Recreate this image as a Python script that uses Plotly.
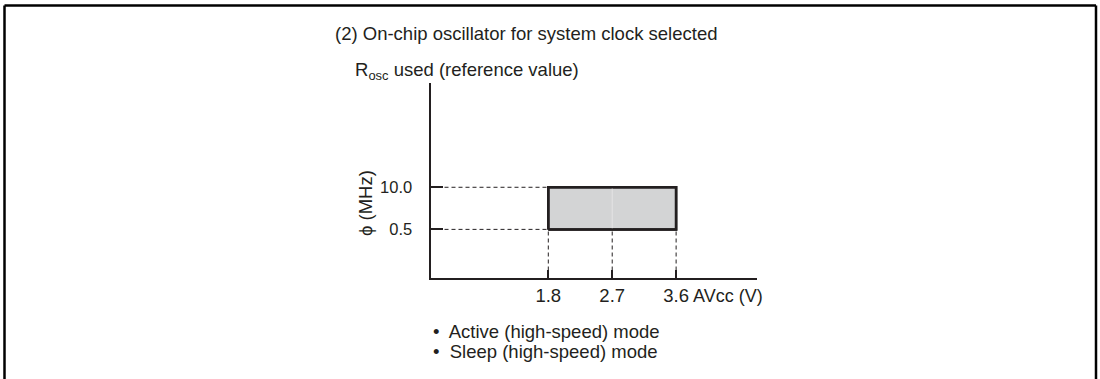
import plotly.graph_objects as go

# Operating range values
x_ticks = [1.8, 2.7, 3.6]
x_tick_labels = ["1.8", "2.7", "3.6"]
y_ticks = [0.5, 10.0]
y_tick_labels = ["0.5", "10.0"]
v_min, v_max = 1.8, 3.6
f_min, f_max = 0.5, 10.0
modes = ["Active (high-speed) mode", "Sleep (high-speed) mode"]

W, H = 1100, 379
FONT = "Liberation Sans, Arial, Helvetica, sans-serif"
INK = "#231f20"
FS = 18.5

# axis geometry (pixels)
ax_left, ax_right = 430.5, 757
ax_bottom, ax_top = 277.5, 83

x_range = [0.141, 4.739]
y_range = [-1.788, 4.222]
y_floor = 10 ** y_range[0]

fig = go.Figure()

dash = dict(color=INK, width=1, dash="4px,3px")
# horizontal guide lines to the frequency limits
for f in [f_max, f_min]:
    fig.add_trace(go.Scatter(x=[x_range[0], v_min], y=[f, f], mode="lines",
                             line=dash, hoverinfo="skip", showlegend=False))
# vertical guide lines to the voltage points
for v in x_ticks:
    fig.add_trace(go.Scatter(x=[v, v], y=[y_floor, f_min], mode="lines",
                             line=dash, hoverinfo="skip", showlegend=False))

# operating region
fig.add_trace(go.Scatter(
    x=[v_min, v_max, v_max, v_min, v_min],
    y=[f_min, f_min, f_max, f_max, f_min],
    mode="lines", fill="toself", fillcolor="#d3d4d5",
    line=dict(color=INK, width=2.5), hoverinfo="skip", showlegend=False))
fig.add_trace(go.Scatter(x=[x_ticks[1], x_ticks[1]], y=[f_min, f_max], mode="lines",
                         line=dict(color="#e4e4e4", width=1),
                         hoverinfo="skip", showlegend=False))
fig.add_trace(go.Scatter(
    x=[v_min, v_max, v_max, v_min, v_min],
    y=[f_min, f_min, f_max, f_max, f_min],
    mode="lines", line=dict(color=INK, width=2.5),
    hoverinfo="skip", showlegend=False))

fig.update_layout(
    width=W, height=H,
    margin=dict(l=0, r=0, t=0, b=0),
    paper_bgcolor="white", plot_bgcolor="rgba(0,0,0,0)",
    font=dict(family=FONT, size=FS, color=INK),
    xaxis=dict(
        domain=[ax_left / W, ax_right / W], range=x_range,
        showgrid=False, zeroline=False, showline=True, linecolor=INK, linewidth=2,
        ticks="inside", ticklen=8, tickwidth=2, tickcolor=INK,
        tickvals=x_ticks, ticktext=x_tick_labels,
        tickfont=dict(family=FONT, size=FS, color=INK),
    ),
    yaxis=dict(
        type="log",
        domain=[1 - ax_bottom / H, 1 - ax_top / H], range=y_range,
        showgrid=False, zeroline=False, showline=True, linecolor=INK, linewidth=2,
        ticks="inside", ticklen=12, tickwidth=2, tickcolor=INK,
        tickvals=y_ticks, ticktext=y_tick_labels, ticklabelstandoff=13,
        tickfont=dict(family=FONT, size=16.5, color=INK),
    ),
)

def px(x, y):
    return dict(xref="paper", yref="paper", x=x / W, y=1 - y / H)

anns = [
    dict(text="(2) On-chip oscillator for system clock selected",
         xanchor="left", yanchor="middle", **px(333, 33)),
    dict(text="R<sub>osc</sub> used (reference value)",
         xanchor="left", yanchor="middle", **px(353, 71)),
    dict(text="AVcc (V)", xanchor="left", yanchor="middle", **px(691, 296),
         size=18),
    dict(text="ϕ (MHz)", textangle=-90, xanchor="center", yanchor="middle",
         **px(365, 203)),
]
for i, m in enumerate(modes):
    anns.append(dict(text="•  " + m, xanchor="left", yanchor="middle",
                     **px(431, 331 + 20.5 * i)))
for a in anns:
    size = a.pop("size", FS)
    a.update(showarrow=False, font=dict(family=FONT, size=size, color=INK))
fig.update_layout(annotations=anns)

# outer frame (open at the bottom)
frame = dict(color="black", width=2.5)
fig.update_layout(shapes=[
    dict(type="line", xref="paper", yref="paper", x0=4.5 / W, x1=4.5 / W,
         y0=1 - 5.5 / H, y1=-0.05, line=frame),
    dict(type="line", xref="paper", yref="paper", x0=4.5 / W, x1=1096 / W,
         y0=1 - 5.5 / H, y1=1 - 5.5 / H, line=frame),
    dict(type="line", xref="paper", yref="paper", x0=1096 / W, x1=1096 / W,
         y0=1 - 5.5 / H, y1=-0.05, line=frame),
])

fig.write_html("out.html")
